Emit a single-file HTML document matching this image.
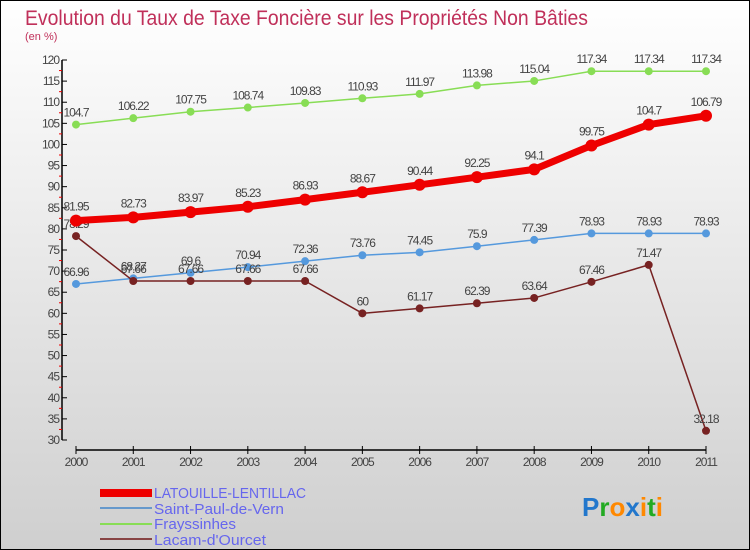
<!DOCTYPE html>
<html><head><meta charset="utf-8"><style>
body{margin:0;width:750px;height:550px;overflow:hidden;font-family:"Liberation Sans",sans-serif}
svg{display:block}
</style></head><body>
<svg width="750" height="550" viewBox="0 0 750 550">
<defs><linearGradient id="bg" x1="0" y1="0" x2="0" y2="1"><stop offset="0" stop-color="#ffffff"/><stop offset="1" stop-color="#cfcfcf"/></linearGradient></defs>
<rect x="0.5" y="0.5" width="749" height="549" fill="url(#bg)" stroke="#000"/>
<text x="25" y="25" font-size="21" fill="#c0305a" textLength="563" lengthAdjust="spacingAndGlyphs">Evolution du Taux de Taxe Foncière sur les Propriétés Non Bâties</text>
<text x="25" y="40" font-size="11" fill="#c0305a">(en %)</text>
<g id="axes"></g>
<g id="series"></g>
<g font-size="15" fill="#6666ee">
<rect x="100" y="489" width="52" height="8" fill="#e00"/>
<text x="154" y="498" textLength="152" lengthAdjust="spacingAndGlyphs">LATOUILLE-LENTILLAC</text>
<line x1="100" y1="508" x2="152" y2="508" stroke="#6699cc" stroke-width="2"/>
<text x="154" y="514" textLength="130" lengthAdjust="spacingAndGlyphs">Saint-Paul-de-Vern</text>
<line x1="100" y1="524" x2="152" y2="524" stroke="#88dd55" stroke-width="2"/>
<text x="154" y="529" textLength="82" lengthAdjust="spacingAndGlyphs">Frayssinhes</text>
<line x1="100" y1="539" x2="152" y2="539" stroke="#884444" stroke-width="2"/>
<text x="154" y="545" textLength="112" lengthAdjust="spacingAndGlyphs">Lacam-d'Ourcet</text>
</g>
<text x="582" y="516" font-size="26" font-weight="bold"><tspan fill="#2277cc">P</tspan><tspan fill="#22aa22">r</tspan><tspan fill="#ff8800">o</tspan><tspan fill="#2277cc">x</tspan><tspan fill="#ff8800">i</tspan><tspan fill="#22aa22">t</tspan><tspan fill="#ff8800">i</tspan></text>
</svg>
<script>
const years=["2000","2001","2002","2003","2004","2005","2006","2007","2008","2009","2010","2011"];
const latouille=[81.95,82.73,83.97,85.23,86.93,88.67,90.44,92.25,94.1,99.75,104.7,106.79];
const saintPaul=[66.96,68.27,69.6,70.94,72.36,73.76,74.45,75.9,77.39,78.93,78.93,78.93];
const frayssinhes=[104.7,106.22,107.75,108.74,109.83,110.93,111.97,113.98,115.04,117.34,117.34,117.34];
const lacam=[78.29,67.66,67.66,67.66,67.66,60,61.17,62.39,63.64,67.46,71.47,32.18];
const yTicks=[30,35,40,45,50,55,60,65,70,75,80,85,90,95,100,105,110,115,120];
const NS="http://www.w3.org/2000/svg";
const xs=i=>76+i*(630/11);
const ys=v=>440-(v-30)*(380/90);
function mk(t,a,p){const e=document.createElementNS(NS,t);for(const k in a)e.setAttribute(k,a[k]);p.appendChild(e);return e;}
const ax=document.getElementById('axes');
let yl=mk('line',{x1:62,y1:ys(120),x2:62,y2:ys(30),stroke:'#000','stroke-width':1.5},ax);


let xl=mk('line',{x1:76,y1:450,x2:706,y2:450,stroke:'#000','stroke-width':1.5},ax);


yTicks.forEach((v,i)=>{
 mk('line',{x1:62,y1:ys(v),x2:67,y2:ys(v),stroke:'#000'},ax);
 if(i<yTicks.length-1)mk('line',{x1:59,y1:ys(v+2.5),x2:62,y2:ys(v+2.5),stroke:'#e00'},ax);
 const t=mk('text',{x:59,y:ys(v)+4,'font-size':12,fill:'#444','text-anchor':'end','letter-spacing':'-1'},ax);
 t.textContent=v;
 
 
});
years.forEach((y,i)=>{
 mk('line',{x1:xs(i),y1:446,x2:xs(i),y2:454,stroke:'#000'},ax);
 const t=mk('text',{x:xs(i),y:466,'font-size':12,fill:'#444','text-anchor':'middle','letter-spacing':'-1'},ax);
 t.textContent=y;
 
 
});
const sg=document.getElementById('series');
function draw(vals,color,w,r,name){
 const g=mk('g',{},sg);
 
 
 mk('polyline',{points:vals.map((v,i)=>xs(i)+','+ys(v)).join(' '),fill:'none',stroke:color,'stroke-width':w,'stroke-linejoin':'round'},g);
 vals.forEach((v,i)=>{
  const c=mk('circle',{cx:xs(i),cy:ys(v),r:r,fill:color},g);
  
  
  const t=mk('text',{x:xs(i),y:ys(v)-r-4,'font-size':12,fill:'#444','text-anchor':'middle','letter-spacing':'-1'},g);
  t.textContent=String(v);
  
  
 });
}
draw(frayssinhes,'#88dd55',1.5,4,'series-frayssinhes');
draw(saintPaul,'#5599dd',1.5,4,'series-saint-paul');
draw(lacam,'#772222',1.5,4,'series-lacam');
draw(latouille,'#ee0000',7,6,'series-latouille');
</script>
</body></html>
